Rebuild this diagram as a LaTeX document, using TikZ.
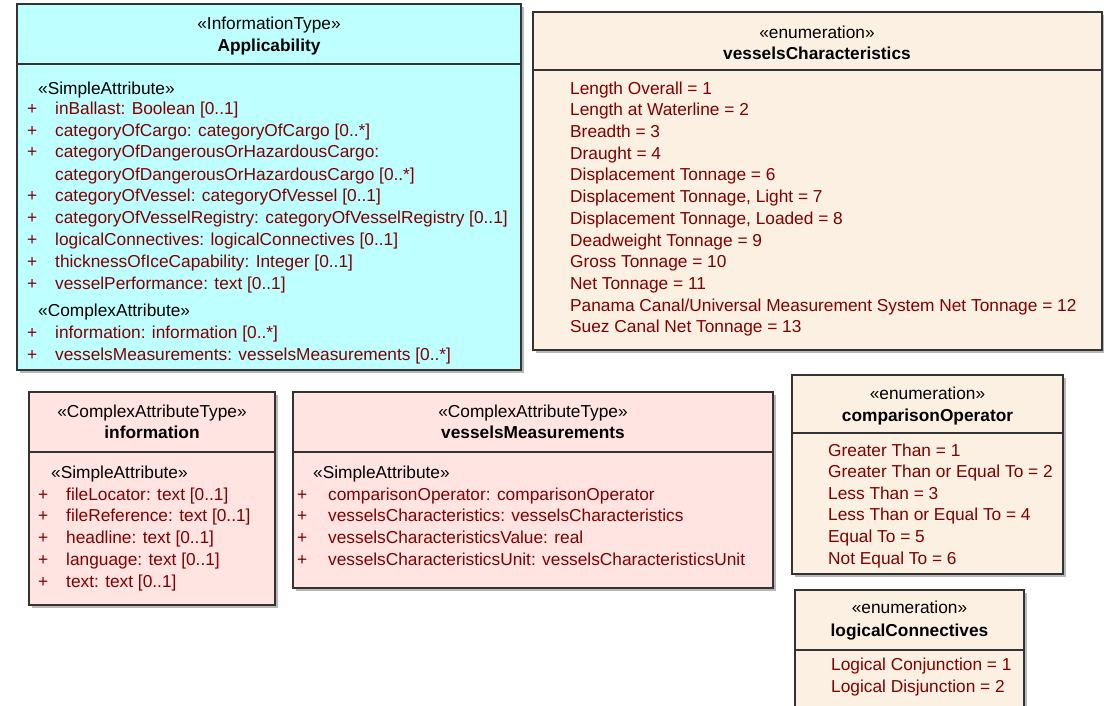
\documentclass[tikz,border=0pt]{standalone}
\usepackage{fontspec}
\setmainfont{Liberation Sans}
\definecolor{attr}{RGB}{128,0,0}
\definecolor{cyanfill}{RGB}{190,255,255}
\definecolor{pinkfill}{RGB}{255,228,225}
\definecolor{enumfill}{RGB}{252,240,226}
% x1 y1 x2 y2 ysep fill
\newcommand\umlbox[6]{%
  \fill[black!28] ([shift={(3,3)}]#1,#2) rectangle ([shift={(3,3)}]#3,#4);
  \filldraw[boxline, fill=#6] (#1,#2) rectangle (#3,#4);
  \draw[boxline] (#1,#5) -- (#3,#5);
}
\tikzset{
  boxline/.style={draw=black!80, line width=1.2pt},
  txt/.style={inner sep=0pt, anchor=mid west, yshift=-3.5pt, font=\fontsize{17.3}{20}\selectfont},
  attr/.style={txt, text=attr},
  st/.style={inner sep=0pt, anchor=mid, yshift=-3.5pt, font=\fontsize{17.3}{20}\selectfont},
  ttl/.style={inner sep=0pt, anchor=mid, yshift=-3.5pt, font=\fontsize{17.3}{20}\selectfont\bfseries},
}
\begin{document}
\begin{tikzpicture}[x=1pt,y=-1pt]
\useasboundingbox (0,0) rectangle (1104,706);

% ---------- Applicability ----------
\umlbox{17}{4}{521}{370}{64}{cyanfill}
\node[st]  (appS) at (269,23) {«InformationType»};
\node[ttl] (appT) at (269,45) {Applicability};
\node[txt] (appSA) at (38,88) {«SimpleAttribute»};
\foreach \t [count=\i] in {
  {inBallast: Boolean [0..1]},
  {categoryOfCargo: categoryOfCargo [0..*]},
  {categoryOfDangerousOrHazardousCargo:},
  {},
  {categoryOfVessel: categoryOfVessel [0..1]},
  {categoryOfVesselRegistry: categoryOfVesselRegistry [0..1]},
  {logicalConnectives: logicalConnectives [0..1]},
  {thicknessOfIceCapability: Integer [0..1]},
  {vesselPerformance: text [0..1]}}
{
  \ifnum\i=4\relax\else
  \node[attr] (appP\i) at (27,{108+21.9*(\i-1)}) {+};
  \node[attr] (appA\i) at (55,{108+21.9*(\i-1)}) {\t};
  \fi
}
\node[attr] (appA4) at (55,174) {categoryOfDangerousOrHazardousCargo [0..*]};
\node[txt] (appCA) at (38,310) {«ComplexAttribute»};
\node[attr] (appP10) at (27,332) {+};
\node[attr] (appA10) at (55,332) {information: information [0..*]};
\node[attr] (appP11) at (27,354) {+};
\node[attr] (appA11) at (55,354) {vesselsMeasurements: vesselsMeasurements [0..*]};

% ---------- vesselsCharacteristics ----------
\umlbox{533}{12}{1102}{350}{70}{enumfill}
\node[st]  (vcS) at (817,32) {«enumeration»};
\node[ttl] (vcT) at (817,53) {vesselsCharacteristics};
\foreach \t [count=\i] in {
  {Length Overall = 1},
  {Length at Waterline = 2},
  {Breadth = 3},
  {Draught = 4},
  {Displacement Tonnage = 6},
  {Displacement Tonnage, Light = 7},
  {Displacement Tonnage, Loaded = 8},
  {Deadweight Tonnage = 9},
  {Gross Tonnage = 10},
  {Net Tonnage = 11},
  {Panama Canal/Universal Measurement System Net Tonnage = 12},
  {Suez Canal Net Tonnage = 13}}
{
  \node[attr] (vc\i) at (570,{88+21.7*(\i-1)}) {\t};
}

% ---------- information ----------
\umlbox{29}{392}{275}{605}{452}{pinkfill}
\node[st]  (infS) at (152,411) {«ComplexAttributeType»};
\node[ttl] (infT) at (152,432) {information};
\node[txt] (infSA) at (51,472) {«SimpleAttribute»};
\foreach \t [count=\i] in {
  {fileLocator: text [0..1]},
  {fileReference: text [0..1]},
  {headline: text [0..1]},
  {language: text [0..1]},
  {text: text [0..1]}}
{
  \node[attr] (infP\i) at (38,{494+21.8*(\i-1)}) {+};
  \node[attr] (infA\i) at (66,{494+21.8*(\i-1)}) {\t};
}

% ---------- vesselsMeasurements ----------
\umlbox{293}{392}{773}{588}{452}{pinkfill}
\node[st]  (vmS) at (533,411) {«ComplexAttributeType»};
\node[ttl] (vmT) at (533,432) {vesselsMeasurements};
\node[txt] (vmSA) at (313,472) {«SimpleAttribute»};
\foreach \t [count=\i] in {
  {comparisonOperator: comparisonOperator},
  {vesselsCharacteristics: vesselsCharacteristics},
  {vesselsCharacteristicsValue: real},
  {vesselsCharacteristicsUnit: vesselsCharacteristicsUnit}}
{
  \node[attr] (vmP\i) at (297,{494+21.8*(\i-1)}) {+};
  \node[attr] (vmA\i) at (328,{494+21.8*(\i-1)}) {\t};
}

% ---------- comparisonOperator ----------
\umlbox{792}{375}{1063}{574}{433}{enumfill}
\node[st]  (coS) at (927.5,393) {«enumeration»};
\node[ttl] (coT) at (927.5,415) {comparisonOperator};
\foreach \t [count=\i] in {
  {Greater Than = 1},
  {Greater Than or Equal To = 2},
  {Less Than = 3},
  {Less Than or Equal To = 4},
  {Equal To = 5},
  {Not Equal To = 6}}
{
  \node[attr] (co\i) at (828,{450+21.6*(\i-1)}) {\t};
}

% ---------- logicalConnectives ----------
\umlbox{795}{590}{1024}{720}{650}{enumfill}
\node[st]  (lcS) at (909.5,607) {«enumeration»};
\node[ttl] (lcT) at (909.5,630) {logicalConnectives};
\node[attr] (lc1) at (831,664) {Logical Conjunction = 1};
\node[attr] (lc2) at (831,686) {Logical Disjunction = 2};
\end{tikzpicture}
\end{document}
